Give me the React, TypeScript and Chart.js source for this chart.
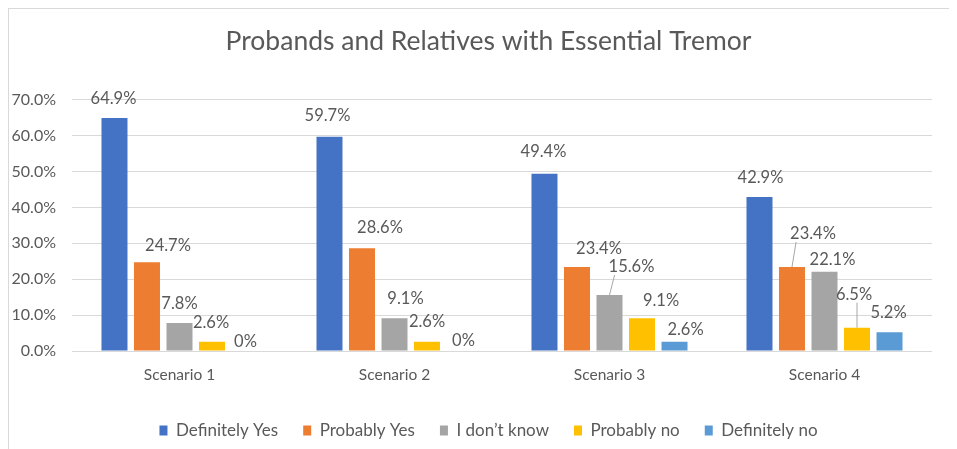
import React, { useEffect, useRef } from "react";
import { Chart, registerables } from "chart.js";

Chart.register(...registerables);

const categories = ["Scenario 1", "Scenario 2", "Scenario 3", "Scenario 4"];
const seriesNames = ["Definitely Yes", "Probably Yes", "I don\u2019t know", "Probably no", "Definitely no"];
const definitelyYes = [64.9, 59.7, 49.4, 42.9];
const probablyYes = [24.7, 28.6, 23.4, 23.4];
const dontKnow = [7.8, 9.1, 15.6, 22.1];
const probablyNo = [2.6, 2.6, 9.1, 6.5];
const definitelyNo = [0, 0, 2.6, 5.2];
const yMin = 0;
const yMax = 70;
const yStep = 10;

const colors = ["#4472C4", "#ED7D31", "#A5A5A5", "#FFC000", "#5B9BD5"];
const textColor = "#595959";
const FONT = "Lato, 'Open Sans', sans-serif";

// Excel-style label placement (offsets from bar top centre), per series, per category
const labelDx = [
  [-1, -2, -1, 1],
  [21, 18, 22, 21],
  [0, 11, 22, 8],
  [-1, 0, 19, -3],
  [1, 4, 11, -1],
];
const labelDy = [
  [-19, -21, -22, -19],
  [-17, -21, -18, -33],
  [-19, -20, -28, -12],
  [-19, -20, -18, -33],
  [-9, -10, -12, -20],
];
const leader = [
  [0, 0, 0, 0],
  [0, 0, 0, 1],
  [0, 0, 1, 0],
  [0, 0, 0, 1],
  [0, 0, 0, 0],
];

const fmt = (v: number) => (v === 0 ? "0%" : v.toFixed(1) + "%");

const labelPlugin = {
  id: "barLabels",
  afterLayout(chart: any) {
    // let the y tick labels use the space to the left of the narrow axis box
    const y = chart.scales.y;
    if (y) y.left = 0;
  },
  afterDatasetsDraw(chart: any) {
    const ctx = chart.ctx;
    ctx.save();
    ctx.font = `16.5px ${FONT}`;
    ctx.fillStyle = textColor;
    ctx.textAlign = "center";
    ctx.textBaseline = "middle";
    chart.data.datasets.forEach((ds: any, di: number) => {
      const meta = chart.getDatasetMeta(di);
      meta.data.forEach((bar: any, i: number) => {
        const v = ds.data[i] as number;
        const text = fmt(v);
        const x = bar.x + labelDx[di][i];
        const y = bar.y + labelDy[di][i];
        if (leader[di][i]) {
          const w = ctx.measureText(text).width;
          const ex = Math.min(Math.max(bar.x, x - w / 2 + 6), x + w / 2 - 6);
          ctx.strokeStyle = "#A6A6A6";
          ctx.lineWidth = 1;
          ctx.beginPath();
          ctx.moveTo(bar.x, bar.y);
          ctx.lineTo(ex, y + 8);
          ctx.stroke();
        }
        ctx.fillText(text, x, y);
      });
    });
    ctx.restore();
  },
};

export default function App() {
  const ref = useRef<HTMLCanvasElement | null>(null);

  useEffect(() => {
    if (!ref.current) return;
    const seriesValues = [definitelyYes, probablyYes, dontKnow, probablyNo, definitelyNo];
    const chart = new Chart(ref.current, {
      type: "bar",
      data: {
        labels: categories,
        datasets: seriesNames.map((name, i) => ({
          label: name,
          data: seriesValues[i],
          backgroundColor: colors[i],
          borderWidth: 0,
          categoryPercentage: 0.756,
          barPercentage: 0.8,
        })),
      },
      options: {
        animation: false,
        responsive: true,
        maintainAspectRatio: false,
        layout: { padding: { left: 36, right: 25, top: 0, bottom: 0 } },
        plugins: {
          title: {
            display: true,
            text: "Probands and Relatives with Essential Tremor",
            color: textColor,
            font: { family: FONT, size: 26.5, weight: "normal" },
            padding: { top: 17, bottom: 42 },
          },
          legend: {
            position: "bottom",
            labels: {
              color: textColor,
              font: { family: FONT, size: 17 },
              boxWidth: 8,
              boxHeight: 10,
              padding: 25,
            },
          },
          tooltip: { enabled: false },
        },
        scales: {
          x: {
            grid: { display: false, drawTicks: false },
            border: { display: false },
            ticks: { color: textColor, font: { family: FONT, size: 15.5 }, padding: 15 },
            afterFit: (s: any) => {
              s.height = 46;
            },
          },
          y: {
            min: yMin,
            max: yMax,
            grid: { color: "#D9D9D9", lineWidth: 1, drawTicks: false },
            border: { display: false },
            ticks: {
              stepSize: yStep,
              color: textColor,
              font: { family: FONT, size: 16 },
              padding: 16,
              callback: (v: any) => Number(v).toFixed(1) + "%",
            },
            afterFit: (s: any) => {
              s.width = 27;
            },
          },
        },
      },
      plugins: [labelPlugin],
    });
    return () => chart.destroy();
  }, []);

  return (
    <div
      style={{
        width: 948,
        height: 440,
        borderTop: "1px solid #D9D9D9",
        borderLeft: "1px solid #D9D9D9",
        background: "#fff",
      }}
    >
      <div style={{ position: "relative", width: 948, height: 440 }}>
        <canvas ref={ref} />
      </div>
    </div>
  );
}
